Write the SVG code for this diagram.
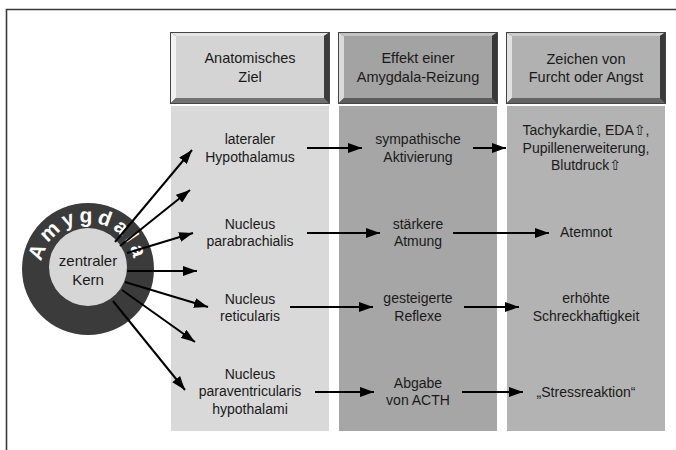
<svg xmlns="http://www.w3.org/2000/svg" width="676" height="450" viewBox="0 0 676 450">
<defs>
<style>
text{font-family:"Liberation Sans",Arial,"DejaVu Sans",sans-serif;font-size:14px;fill:#1a1a1a;text-anchor:middle}
.hd{font-size:14.5px}
.sym{font-family:"DejaVu Sans",sans-serif;font-size:14px}
.conn line{stroke:#000;stroke-width:2;fill:none;marker-end:url(#ah)}
</style>
<marker id="ah" markerUnits="userSpaceOnUse" markerWidth="14" markerHeight="10" refX="14" refY="5" orient="auto" viewBox="0 0 14 10">
<path d="M0,0 L14,5 L0,10 z" fill="#000"/>
</marker>
<path id="arc" d="M41.58,261.65 A47,47 0 0 1 134.42,276.35"/>
</defs>
<rect x="0" y="0" width="676" height="450" fill="#fff"/>
<path d="M6.5,450 V9.5 H676" fill="none" stroke="#3a3a3a" stroke-width="1.6"/>

<!-- column bodies -->
<rect x="171" y="106" width="158" height="325" fill="#d9d9d9"/>
<rect x="339" y="106" width="158" height="325" fill="#a6a6a6"/>
<rect x="507" y="106" width="158" height="325" fill="#b3b3b3"/>

<!-- headers -->
<g id="header-ziel" transform="translate(170,32)">
<rect x="0" y="0" width="160" height="72" fill="#333"/>
<polygon points="0,0 160,0 154,4 6,4" fill="#e6e6e6"/>
<polygon points="0,0 6,4 6,66 0,72" fill="#f2f2f2"/>
<polygon points="160,0 160,72 154,66 154,4" fill="#3c3c3c"/>
<polygon points="0,72 160,72 154,66 6,66" fill="#707070"/>
<rect x="6" y="4" width="148" height="62" fill="#d4d4d4"/>
<rect x="0.5" y="0.5" width="159" height="71" fill="none" stroke="#444" stroke-width="1"/>
<text class="hd" x="80" y="31">Anatomisches</text>
<text class="hd" x="80" y="50">Ziel</text>
</g>
<g id="header-effekt" transform="translate(338,32)">
<rect x="0" y="0" width="160" height="72" fill="#333"/>
<polygon points="0,0 160,0 154,4 6,4" fill="#c4c4c4"/>
<polygon points="0,0 6,4 6,66 0,72" fill="#dadada"/>
<polygon points="160,0 160,72 154,66 154,4" fill="#383838"/>
<polygon points="0,72 160,72 154,66 6,66" fill="#5c5c5c"/>
<rect x="6" y="4" width="148" height="62" fill="#a3a3a3"/>
<rect x="0.5" y="0.5" width="159" height="71" fill="none" stroke="#444" stroke-width="1"/>
<text class="hd" x="80" y="31">Effekt einer</text>
<text class="hd" x="80" y="50">Amygdala-Reizung</text>
</g>
<g id="header-zeichen" transform="translate(506,32)">
<rect x="0" y="0" width="160" height="72" fill="#333"/>
<polygon points="0,0 160,0 154,4 6,4" fill="#cdcdcd"/>
<polygon points="0,0 6,4 6,66 0,72" fill="#e2e2e2"/>
<polygon points="160,0 160,72 154,66 154,4" fill="#3a3a3a"/>
<polygon points="0,72 160,72 154,66 6,66" fill="#646464"/>
<rect x="6" y="4" width="148" height="62" fill="#b1b1b1"/>
<rect x="0.5" y="0.5" width="159" height="71" fill="none" stroke="#444" stroke-width="1"/>
<text class="hd" x="80" y="32">Zeichen von</text>
<text class="hd" x="80" y="50">Furcht oder Angst</text>
</g>

<!-- amygdala -->
<g id="amygdala">
<circle cx="88" cy="269" r="66" fill="#3b3b3b"/>
<circle cx="88" cy="267" r="39" fill="#d6d6d6"/>
<text style="font-size:21px;font-weight:bold;fill:#fff;text-anchor:start;letter-spacing:4px"><textPath href="#arc" startOffset="0">Amygdala</textPath></text>
<text x="88" y="266" style="font-size:15px">zentraler</text>
<text x="88" y="285" style="font-size:15px">Kern</text>
</g>

<!-- cells -->
<g id="lat-hyp"><text x="250" y="144">lateraler</text><text x="250" y="162">Hypothalamus</text></g>
<g id="symp"><text x="418" y="144">sympathische</text><text x="418" y="162">Aktivierung</text></g>
<g id="tachy"><text x="586" y="135">Tachykardie, EDA<tspan class="sym">⇧</tspan>,</text><text x="586" y="153">Pupillenerweiterung,</text><text x="586" y="170">Blutdruck<tspan class="sym">⇧</tspan></text></g>

<g id="parabr"><text x="250" y="229">Nucleus</text><text x="250" y="246">parabrachialis</text></g>
<g id="atmung"><text x="418" y="229">stärkere</text><text x="418" y="246">Atmung</text></g>
<g id="atemnot"><text x="586" y="237">Atemnot</text></g>

<g id="retic"><text x="250" y="304">Nucleus</text><text x="250" y="321">reticularis</text></g>
<g id="reflexe"><text x="418" y="303">gesteigerte</text><text x="418" y="321">Reflexe</text></g>
<g id="schreck"><text x="586" y="303">erhöhte</text><text x="586" y="321">Schreckhaftigkeit</text></g>

<g id="paravent"><text x="250" y="379">Nucleus</text><text x="250" y="396">paraventricularis</text><text x="250" y="414">hypothalami</text></g>
<g id="acth"><text x="418" y="388">Abgabe</text><text x="418" y="405">von ACTH</text></g>
<g id="stress"><text x="586" y="397">„Stressreaktion“</text></g>

<!-- connectors -->
<g id="connectors" class="conn">
<line x1="115" y1="242" x2="192" y2="150"/>
<line x1="120" y1="246" x2="190" y2="190"/>
<line x1="127" y1="253" x2="193" y2="233"/>
<line x1="127" y1="271" x2="197" y2="271"/>
<line x1="125" y1="282" x2="208" y2="307"/>
<line x1="122" y1="290" x2="195" y2="342"/>
<line x1="113" y1="301" x2="185" y2="390"/>
<line x1="307" y1="148" x2="362" y2="148"/>
<line x1="473" y1="148" x2="506" y2="148"/>
<line x1="307" y1="233" x2="380" y2="233"/>
<line x1="453" y1="233" x2="549" y2="233"/>
<line x1="290" y1="307" x2="373" y2="307"/>
<line x1="464" y1="307" x2="519" y2="307"/>
<line x1="315" y1="392" x2="374" y2="392"/>
<line x1="462" y1="392" x2="523" y2="392"/>
</g>
</svg>
